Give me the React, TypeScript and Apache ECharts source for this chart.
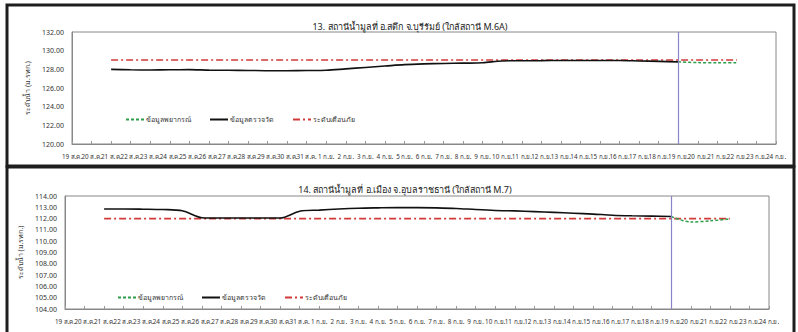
import React, { useEffect, useRef } from "react";
import * as echarts from "echarts";

const categories = [
  "19 ส.ค.", "20 ส.ค.", "21 ส.ค.", "22 ส.ค.", "23 ส.ค.", "24 ส.ค.", "25 ส.ค.", "26 ส.ค.", "27 ส.ค.", "28 ส.ค.",
  "29 ส.ค.", "30 ส.ค.", "31 ส.ค.", "1 ก.ย.", "2 ก.ย.", "3 ก.ย.", "4 ก.ย.", "5 ก.ย.", "6 ก.ย.", "7 ก.ย.",
  "8 ก.ย.", "9 ก.ย.", "10 ก.ย.", "11 ก.ย.", "12 ก.ย.", "13 ก.ย.", "14 ก.ย.", "15 ก.ย.", "16 ก.ย.", "17 ก.ย.",
  "18 ก.ย.", "19 ก.ย.", "20 ก.ย.", "21 ก.ย.", "22 ก.ย.", "23 ก.ย.", "24 ก.ย.",
];

const todayLabel = "19 ก.ย.";

const title13 = "13. สถานีน้ำมูลที่ อ.สตึก จ.บุรีรัมย์ (ใกล้สถานี M.6A)";
const title14 = "14. สถานีน้ำมูลที่ อ.เมือง จ.อุบลราชธานี (ใกล้สถานี M.7)";
const yName = "ระดับน้ำ (ม.รทก.)";
const nameForecast = "ข้อมูลพยากรณ์";
const nameObserved = "ข้อมูลตรวจวัด";
const nameWarning = "ระดับเตือนภัย";

const n = null;
// Station 13 (M.6A)
const observed13 = [
  n, n, 128.0, 127.95, 127.93, 127.95, 127.97, 127.92, 127.9, 127.88,
  127.85, 127.85, 127.87, 127.9, 128.05, 128.2, 128.35, 128.5, 128.58, 128.63,
  128.66, 128.7, 128.9, 128.92, 128.93, 128.95, 128.95, 128.95, 128.95, 128.9,
  128.85, 128.8, n, n, n, n, n,
];
const forecast13 = [
  n, n, n, n, n, n, n, n, n, n,
  n, n, n, n, n, n, n, n, n, n,
  n, n, n, n, n, n, n, n, n, n,
  n, 128.8, 128.72, 128.7, 128.7, n, n,
];
const warning13 = [
  n, n, 129, 129, 129, 129, 129, 129, 129, 129,
  129, 129, 129, 129, 129, 129, 129, 129, 129, 129,
  129, 129, 129, 129, 129, 129, 129, 129, 129, 129,
  129, 129, 129, 129, 129, n, n,
];

// Station 14 (M.7)
const observed14 = [
  n, n, 112.85, 112.85, 112.83, 112.8, 112.7, 112.08, 112.05, 112.05,
  112.05, 112.05, 112.65, 112.75, 112.85, 112.92, 112.95, 112.97, 112.97, 112.95,
  112.9, 112.8, 112.72, 112.68, 112.62, 112.55, 112.48, 112.4, 112.3, 112.25,
  112.22, 112.18, n, n, n, n, n,
];
const forecast14 = [
  n, n, n, n, n, n, n, n, n, n,
  n, n, n, n, n, n, n, n, n, n,
  n, n, n, n, n, n, n, n, n, n,
  n, 112.18, 111.7, 111.8, 111.97, n, n,
];
const warning14 = [
  n, n, 112, 112, 112, 112, 112, 112, 112, 112,
  112, 112, 112, 112, 112, 112, 112, 112, 112, 112,
  112, 112, 112, 112, 112, 112, 112, 112, 112, 112,
  112, 112, 112, 112, 112, n, n,
];

const FONT = "'Noto Sans', 'DejaVu Sans', sans-serif";
const GREEN = "#2e9e4a";
const RED = "#d23a3a";
const PURPLE = "#8a84c8";

export default function App() {
  const ref = useRef<HTMLDivElement>(null);

  useEffect(() => {
    if (!ref.current) return;
    const chart = echarts.init(ref.current, undefined, { renderer: "svg" });

    const xAxisBase = (gridIndex: number) => ({
      type: "category",
      gridIndex,
      data: categories,
      boundaryGap: false,
      axisLine: { lineStyle: { color: "#888", width: 1 } },
      axisTick: { show: true, inside: true, length: 3, interval: 0, lineStyle: { color: "#999" } },
      axisLabel: { interval: 0, fontSize: 6.3, color: "#333", margin: 9, fontFamily: FONT, hideOverlap: false },
      splitLine: { show: false },
    });

    const yAxisBase = (gridIndex: number, min: number, max: number, interval: number, nameGap: number) => ({
      type: "value",
      gridIndex,
      min,
      max,
      interval,
      name: yName,
      nameLocation: "middle",
      nameRotate: 90,
      nameGap,
      nameTextStyle: { fontSize: 7, color: "#333", fontFamily: FONT },
      axisLine: { show: true, lineStyle: { color: "#888" } },
      axisTick: { show: false },
      axisLabel: { fontSize: 7, color: "#333", fontFamily: FONT, formatter: (v: number) => v.toFixed(2) },
      splitLine: { show: false },
    });

    const seriesFor = (idx: number, obs: (number | null)[], fc: (number | null)[], warn: (number | null)[]) => [
      {
        name: nameForecast,
        type: "line",
        xAxisIndex: idx,
        yAxisIndex: idx,
        data: fc,
        symbol: "none",
        smooth: 0.3,
        lineStyle: { color: GREEN, width: 1.5, type: [3, 2] },
        itemStyle: { color: GREEN },
        z: 3,
      },
      {
        name: nameObserved,
        type: "line",
        xAxisIndex: idx,
        yAxisIndex: idx,
        data: obs,
        symbol: "none",
        smooth: 0.3,
        lineStyle: { color: "#111", width: 1.6 },
        itemStyle: { color: "#111" },
        z: 4,
        markLine: {
          silent: true,
          symbol: "none",
          label: { show: false },
          lineStyle: { color: PURPLE, width: 1.2, type: "solid" },
          data: [{ xAxis: todayLabel }],
        },
      },
      {
        name: nameWarning,
        type: "line",
        xAxisIndex: idx,
        yAxisIndex: idx,
        data: warn,
        symbol: "none",
        lineStyle: { color: RED, width: 1.6, type: [7, 3, 2, 3] },
        itemStyle: { color: RED },
        z: 2,
      },
    ];

    const legendBase = (left: number, top: number) => ({
      left,
      top,
      orient: "horizontal",
      itemWidth: 18,
      itemHeight: 6,
      itemGap: 18,
      itemStyle: { opacity: 0 },
      data: [nameForecast, nameObserved, nameWarning],
      textStyle: { fontSize: 7, color: "#333", fontFamily: FONT, padding: [0, 0, 0, -3] },
    });

    chart.setOption({
      animation: false,
      backgroundColor: "#fff",
      textStyle: { fontFamily: FONT },
      title: [
        {
          text: title13,
          left: 405,
          top: 17,
          textAlign: "center",
          textStyle: { fontSize: 9, fontWeight: "normal", color: "#222", fontFamily: FONT },
        },
        {
          text: title14,
          left: 400,
          top: 180,
          textAlign: "center",
          textStyle: { fontSize: 9, fontWeight: "normal", color: "#222", fontFamily: FONT },
        },
      ],
      grid: [
        { left: 72, top: 32, width: 704, height: 112, show: true, borderColor: "#888", borderWidth: 1, backgroundColor: "transparent" },
        { left: 65, top: 196, width: 704, height: 113, show: true, borderColor: "#888", borderWidth: 1, backgroundColor: "transparent" },
      ],
      legend: [legendBase(120, 111), legendBase(112, 289)],
      xAxis: [xAxisBase(0), xAxisBase(1)],
      yAxis: [yAxisBase(0, 120, 132, 2, 39), yAxisBase(1, 104, 114, 1, 32)],
      series: [...seriesFor(0, observed13, forecast13, warning13), ...seriesFor(1, observed14, forecast14, warning14)],
      graphic: [
        {
          type: "rect",
          shape: { x: 7, y: 5, width: 787, height: 161 },
          style: { fill: "none", stroke: "#1e1e1e", lineWidth: 3 },
          silent: true,
        },
        {
          type: "rect",
          shape: { x: 7, y: 167, width: 787, height: 170 },
          style: { fill: "none", stroke: "#1e1e1e", lineWidth: 3 },
          silent: true,
        },
      ],
    });

    return () => chart.dispose();
  }, []);

  return (
    <div
      ref={ref}
      style={{ position: "fixed", left: 0, top: 0, width: 798, height: 332, background: "#fff" }}
    />
  );
}
